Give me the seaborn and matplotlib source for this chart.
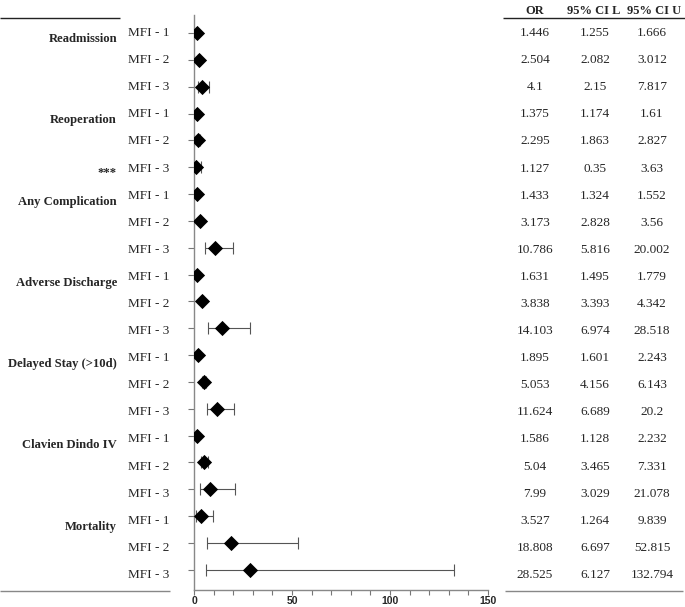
import numpy as np
import pandas as pd
import matplotlib
matplotlib.use("Agg")
import matplotlib.pyplot as plt
import seaborn as sns

categories = ["Readmission", "Reoperation", "Any Complication", "Adverse Discharge",
              "Delayed Stay (>10d)", "Clavien Dindo IV", "Mortality"]
mfi_levels = ["MFI - 1", "MFI - 2", "MFI - 3"]
odds_ratio = [1.446, 2.504, 4.1, 1.375, 2.295, 1.127, 1.433, 3.173, 10.786,
              1.631, 3.838, 14.103, 1.895, 5.053, 11.624, 1.586, 5.04, 7.99,
              3.527, 18.808, 28.525]
ci_lower = [1.255, 2.082, 2.15, 1.174, 1.863, 0.35, 1.324, 2.828, 5.816,
            1.495, 3.393, 6.974, 1.601, 4.156, 6.689, 1.128, 3.465, 3.029,
            1.264, 6.697, 6.127]
ci_upper = [1.666, 3.012, 7.817, 1.61, 2.827, 3.63, 1.552, 3.56, 20.002,
            1.779, 4.342, 28.518, 2.243, 6.143, 20.2, 2.232, 7.331, 21.078,
            9.839, 52.815, 132.794]
flagged = {"Reoperation": "***"}  # marked row (MFI - 3)

df = pd.DataFrame({
    "outcome": np.repeat(categories, 3),
    "mfi": mfi_levels * len(categories),
    "OR": odds_ratio,
    "lo": ci_lower,
    "hi": ci_upper,
})
df["row"] = np.arange(len(df))

sns.set_style("ticks")
plt.rcParams["font.family"] = ["Liberation Serif", "DejaVu Serif"]

fig = plt.figure(figsize=(6.85, 6.07), dpi=100)
W, H = 685, 607

# text layer over the whole figure: x in pixels, y in row units
tx = fig.add_axes([0, 0, 1, 1])
tx.axis("off")
tx.set_xlim(0, W)
top_px, step_px = 33, 27.1
tx.set_ylim((H - top_px) / step_px, -top_px / step_px)

def px_row(y):
    return (y - top_px) / step_px

fs = 9.5
for i, r in df.iterrows():
    tx.text(128, r.row, r.mfi, ha="left", va="center", fontsize=fs)
    tx.text(535, r.row, f"{r.OR:g}", ha="center", va="center", fontsize=fs)
    tx.text(595, r.row, f"{r.lo:g}", ha="center", va="center", fontsize=fs)
    tx.text(652, r.row, f"{r.hi:g}", ha="center", va="center", fontsize=fs)
for k, c in enumerate(categories):
    tx.text(117, k * 3 + 0.22, c, ha="right", va="center", fontsize=9.1, fontweight="bold")
    if c in flagged:
        tx.text(117, k * 3 + 2 + 0.15, flagged[c], ha="right", va="center",
                fontsize=9.1, fontweight="bold")
hy = px_row(11)
for lab, xc in [("OR", 535), ("95% CI L", 594), ("95% CI U", 654)]:
    tx.text(xc, hy, lab, ha="center", va="center", fontsize=9, fontweight="bold")
tx.hlines(px_row(18), 0, 120, color="#222222", lw=1)
tx.hlines(px_row(18), 503, 685, color="#222222", lw=1)
tx.hlines(px_row(591), 0, 170, color="#888888", lw=1)
tx.hlines(px_row(591), 505, 683, color="#888888", lw=1)

# forest plot
ax = fig.add_axes([194 / W, 1 - 590 / H, (488 - 194) / W, (590 - 15) / H])
ax.errorbar(df["OR"], df["row"], xerr=[df["OR"] - df["lo"], df["hi"] - df["OR"]],
            fmt="none", ecolor="#555555", elinewidth=0.8, capsize=4, capthick=0.8, zorder=2)
sns.scatterplot(data=df, x="OR", y="row", marker="D", color="black", s=60,
                edgecolor="black", linewidth=0, ax=ax, zorder=3, legend=False)
ax.set_xlim(0, 150)
ax.set_ylim(20.75, -0.67)
ax.set_yticks(df["row"])
ax.set_yticklabels([])
ax.set_xticks([0, 50, 100, 150])
ax.set_xticks(np.arange(0, 151, 10), minor=True)
ax.tick_params(axis="x", which="both", direction="out", length=3.5, width=0.8,
               color="#777777", labelsize=7.5, pad=1)
ax.tick_params(axis="y", direction="out", length=4, width=0.8, color="#777777")
for lbl in ax.get_xticklabels():
    lbl.set_fontfamily("Liberation Sans")
    lbl.set_fontweight("bold")
ax.set_xlabel("")
ax.set_ylabel("")
for s in ["top", "right"]:
    ax.spines[s].set_visible(False)
for s in ["left", "bottom"]:
    ax.spines[s].set_color("#888888")
    ax.spines[s].set_linewidth(1)
ax.patch.set_alpha(0)

fig.savefig("out.png", dpi=100)
